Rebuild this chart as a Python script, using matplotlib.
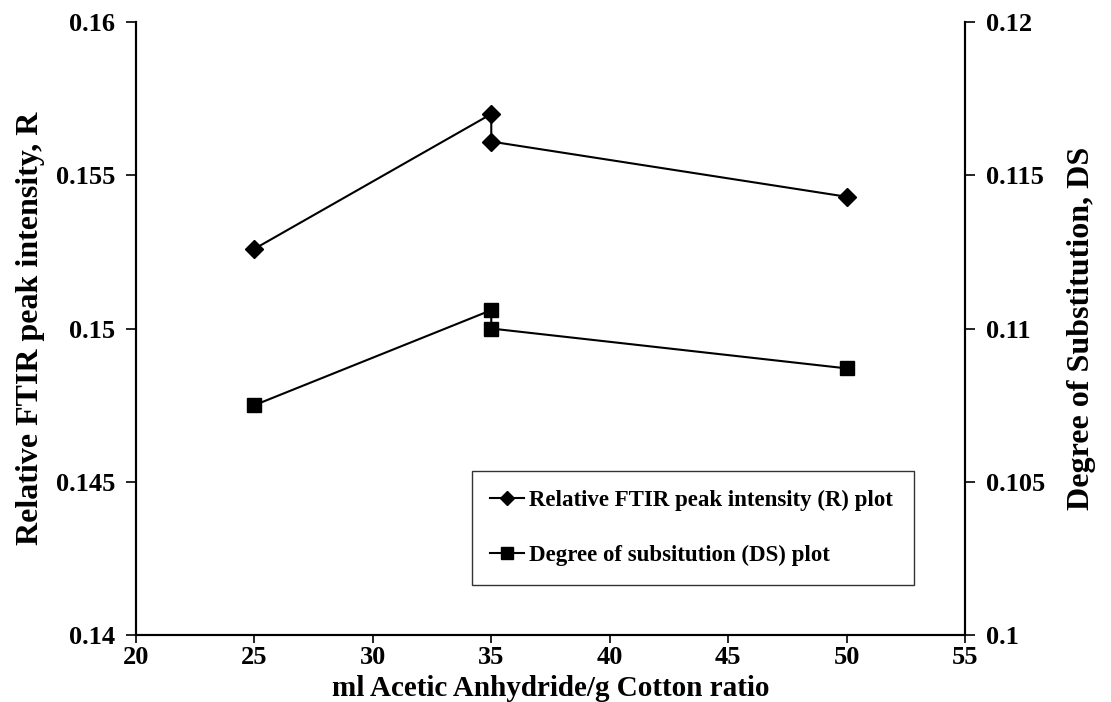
import numpy as np
import matplotlib.pyplot as plt
from matplotlib.lines import Line2D

plt.rcParams['font.family'] = ['Liberation Serif', 'DejaVu Serif']
plt.rcParams['font.weight'] = 'bold'

# acetic anhydride volume per gram of cotton
ratio = [25, 35, 35, 50]
# relative FTIR peak intensity R (left axis)
r_values = [0.1526, 0.1570, 0.1561, 0.1543]
# degree of substitution DS (right axis)
ds_values = [0.1075, 0.1106, 0.1100, 0.1087]

x_ticks = [20, 25, 30, 35, 40, 45, 50, 55]
r_ticks = [0.14, 0.145, 0.15, 0.155, 0.16]
r_labels = ['0.14', '0.145', '0.15', '0.155', '0.16']
ds_ticks = [0.1, 0.105, 0.11, 0.115, 0.12]
ds_labels = ['0.1', '0.105', '0.11', '0.115', '0.12']

fig = plt.figure(figsize=(11.11, 7.02), dpi=100)
ax = fig.add_axes([0.1224, 0.0954, 0.7462, 0.8732])
ax2 = ax.twinx()

ax.plot(ratio, r_values, color='black', lw=1.5, marker='D', ms=9.5)
ax2.plot(ratio, ds_values, color='black', lw=1.5, marker='s', ms=10)

ax.set_xlim(20, 55)
ax.set_ylim(0.14, 0.16)
ax2.set_ylim(0.1, 0.12)
ax.set_xticks(x_ticks)
ax.set_xticklabels([str(t) for t in x_ticks])
ax.set_yticks(r_ticks)
ax.set_yticklabels(r_labels)
ax2.set_yticks(ds_ticks)
ax2.set_yticklabels(ds_labels)

for a in (ax, ax2):
    a.tick_params(axis='y', direction='out', length=7, width=1.2,
                  labelsize=19, pad=8)
    a.tick_params(axis='x', direction='out', length=6, width=1.2,
                  labelsize=19, pad=2)
    for s in a.spines.values():
        s.set_linewidth(1.5)
ax.spines['top'].set_visible(False)
ax2.spines['top'].set_visible(False)

ax.set_xlabel('ml Acetic Anhydride/g Cotton ratio', fontsize=21,
              fontweight='bold', labelpad=4)
ax.set_ylabel('Relative FTIR peak intensity, R', fontsize=23,
              fontweight='bold', labelpad=8)
ax2.set_ylabel('Degree of Substitution, DS', fontsize=23,
               fontweight='bold', labelpad=16)

handles = [
    Line2D([], [], color='black', lw=1.5, marker='D', ms=7),
    Line2D([], [], color='black', lw=1.5, marker='s', ms=8),
]
leg = ax.legend(handles,
                ['Relative FTIR peak intensity (R) plot',
                 'Degree of subsitution (DS) plot'],
                loc='lower left', bbox_to_anchor=(0.405, 0.082, 0.533, 0.235),
                mode='expand', fontsize=16.5, frameon=True, fancybox=False,
                handlelength=1.5, handletextpad=0.2, labelspacing=1.5,
                borderpad=0.8, borderaxespad=0)
leg.get_frame().set_edgecolor('black')
leg.get_frame().set_linewidth(1.0)

fig.savefig('out.png', dpi=100)
